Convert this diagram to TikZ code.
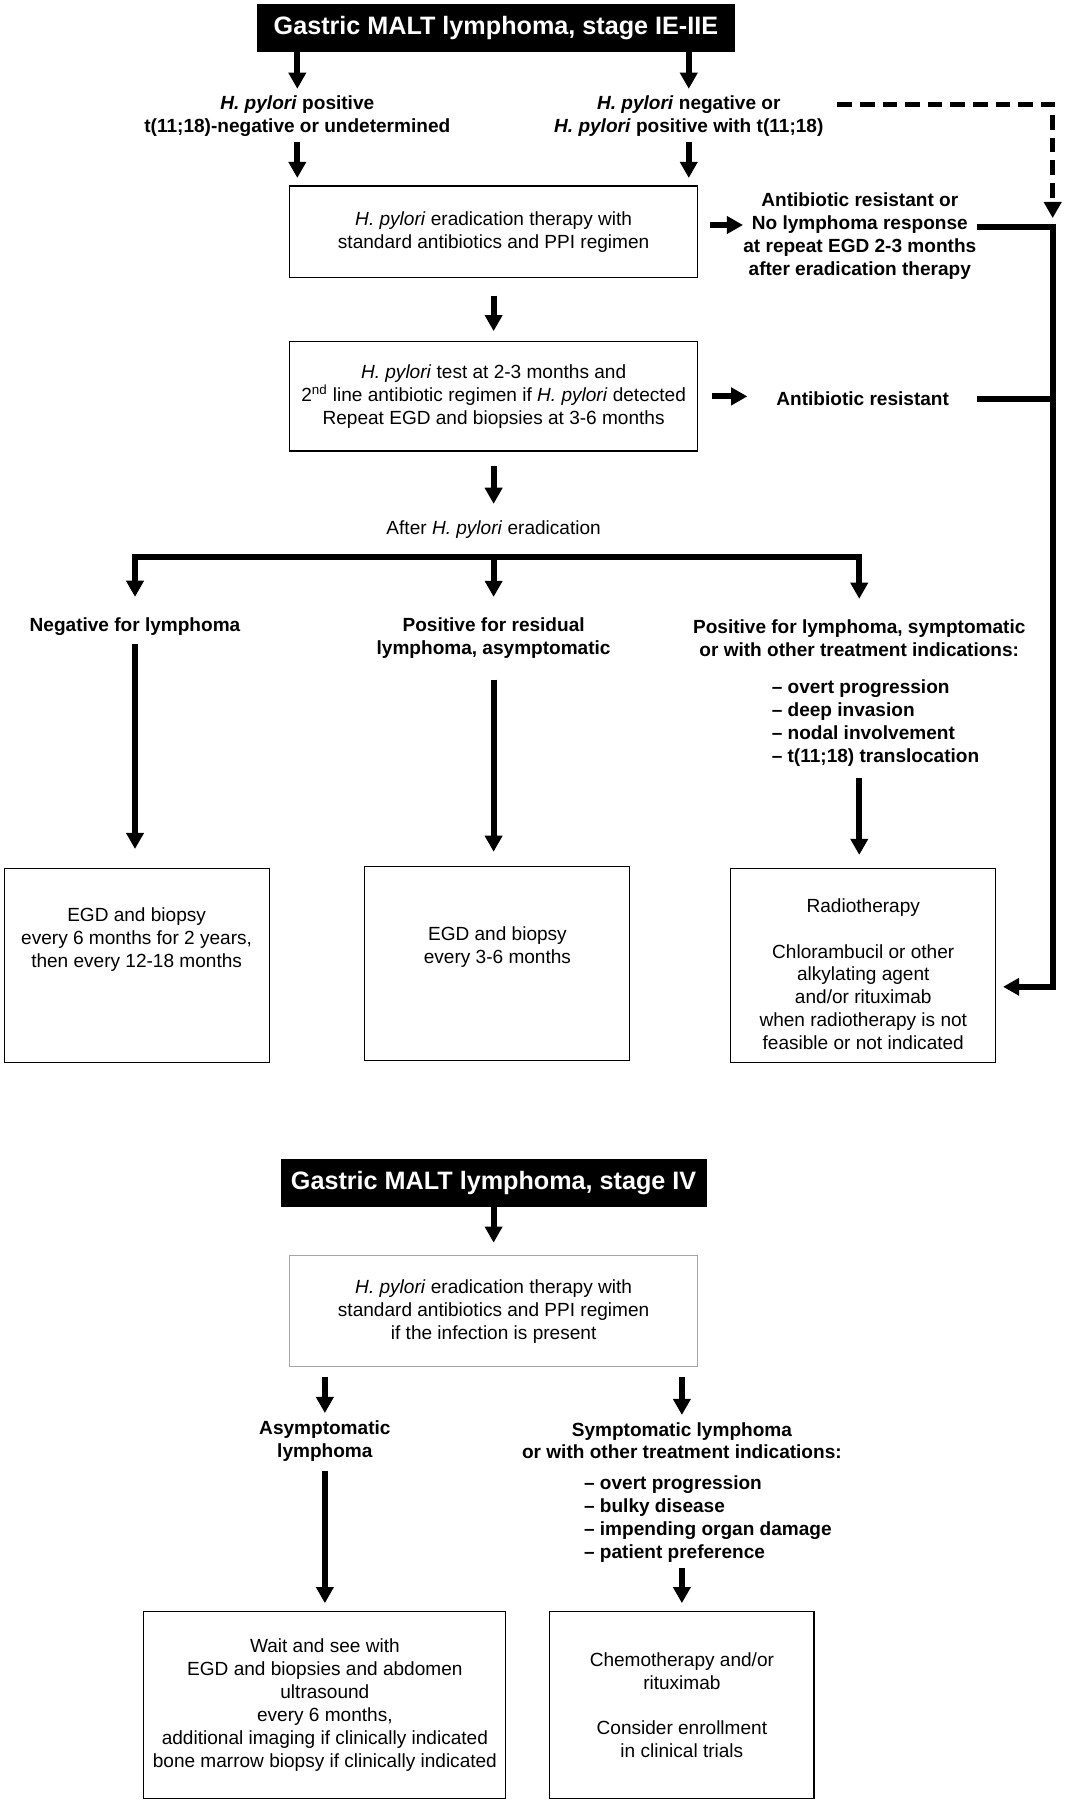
\documentclass[tikz,border=0pt]{standalone}
\usepackage{fontspec}
\setmainfont{Liberation Sans}
\usetikzlibrary{positioning, arrows.meta}
\newcommand{\chartsize}{\fontsize{11.8}{14.2}\selectfont}
\tikzstyle{heading} = [rectangle, fill=black, text=white, inner sep=0pt, font=\fontsize{15.6}{18}\selectfont\bfseries]
\tikzstyle{regimen} = [rectangle, draw=black, line width=0.7pt, align=center, minimum width=8.89cm]
\tikzstyle{outcome} = [rectangle, draw=black, line width=0.7pt, minimum width=5.77cm, minimum height=4.225cm]
\tikzstyle{branch} = [align=center, inner sep=0pt, font=\chartsize\bfseries]
\tikzstyle{note} = [align=center, inner sep=0pt]
\tikzstyle{indications} = [align=left, inner sep=0pt, anchor=west, font=\chartsize\bfseries]
\tikzstyle{arrow} = [line width=3.8pt, ->]
\tikzstyle{bar} = [line width=3.8pt]
\tikzstyle{dasharrow} = [line width=3.4pt, dash pattern=on 9pt off 5pt, ->]

\begin{document}
\begin{tikzpicture}[x=0.025cm, y=-0.025cm, >={Triangle[width=10.5pt,length=10pt]},
    font=\chartsize]
    \useasboundingbox (0,0) rectangle (930,1568);
    % stage IE-IIE
    \node (t1) [heading, minimum width=10.4cm, minimum height=1.04cm] at (432,24.3)
      {Gastric MALT lymphoma, stage IE-IIE};
    \node (l1) [branch] at (259,101)
      {\textit{H. pylori} positive\\t(11;18)-negative or undetermined};
    \node (r1) [branch] at (600,101)
      {\textit{H. pylori} negative or\\\textit{H. pylori} positive with t(11;18)};
    \node (erad1) [regimen, minimum height=2cm] at (430,202)
      {\textit{H. pylori} eradication therapy with\\standard antibiotics and PPI regimen};
    \node (noresp) [branch] at (749,205.7)
      {Antibiotic resistant or\\No lymphoma response\\at repeat EGD 2-3 months\\after eradication therapy};
    \node (test) [regimen, minimum height=2.38cm] at (430,345.3)
      {\textit{H. pylori} test at 2-3 months and\\2\textsuperscript{nd} line antibiotic regimen if \textit{H. pylori} detected\\Repeat EGD and biopsies at 3-6 months};
    \node (resist) [branch] at (751.5,347.5) {Antibiotic resistant};
    \node (after) [note] at (430,461) {After \textit{H. pylori} eradication};
    \coordinate (split) at (430,485);
    \coordinate (railtop) at (917,198);
    \coordinate (railbot) at (917,859.6);
    \node (neg) [branch] at (117.6,546) {Negative for lymphoma};
    \node (resid) [branch] at (430,556) {Positive for residual\\lymphoma, asymptomatic};
    \node (pos) [branch] at (748.5,556)
      {Positive for lymphoma, symptomatic\\or with other treatment indications:};
    \node (poslist) [indications] at (672,630)
      {– overt progression\\– deep invasion\\– nodal involvement\\– t(11;18) translocation};
    \node (negbox) [outcome] at (119,841.2) {};
    \node (negtext) [note] at (119,818.5)
      {EGD and biopsy\\every 6 months for 2 years,\\then every 12-18 months};
    \node (residbox) [outcome] at (433.3,839.5) {};
    \node (residtext) [note] at (433.3,825) {EGD and biopsy\\every 3-6 months};
    \node (radbox) [outcome] at (751.8,841.3) {};
    \node (radtext) [note] at (752,848.6)
      {Radiotherapy\\[14.2pt]Chlorambucil or other\\alkylating agent\\and/or rituximab\\when radiotherapy is not\\feasible or not indicated};

    \draw [arrow, shorten >=4pt] (t1.south -| l1) -- (l1.north);
    \draw [arrow, shorten >=4pt] (t1.south -| r1) -- (r1.north);
    \draw [arrow, shorten <=3.5pt, shorten >=4.6pt] (l1.south) -- (l1.south |- erad1.north);
    \draw [arrow, shorten <=3.5pt, shorten >=4.6pt] (r1.south) -- (r1.south |- erad1.north);
    \draw [dasharrow, shorten <=8.5pt, shorten >=5.7pt] ([yshift=0.25cm]r1.east) -| (railtop);
    \draw [arrow, shorten <=7pt] ([yshift=0.15cm]erad1.east) -- ([yshift=0.15cm]erad1.east -| noresp.west);
    \draw [arrow, shorten <=10.7pt, shorten >=6.2pt] (erad1) -- (test);
    \draw [arrow, shorten <=8.5pt, shorten >=17.8pt] (test.east) -- (test.east -| resist.west);
    \draw [arrow, shorten >=4.3pt] (noresp.east |- railtop) -- (railtop) -- (railbot) -- (railbot -| radbox.east);
    \draw [bar, shorten <=17pt] (resist.east) -- (resist.east -| railtop);
    \draw [arrow, shorten <=9.2pt, shorten >=10pt] (test) -- (after);
    \draw [arrow, <->] ([yshift=0.45cm]neg.north) -- (neg |- split) -- (pos |- split) -- ([yshift=0.45cm]pos.north);
    \draw [arrow] (split) -- ([yshift=0.45cm]resid.north);
    \draw [arrow, shorten <=5pt, shorten >=11.8pt] (neg) -- (neg |- negbox.north);
    \draw [arrow, shorten <=12.8pt, shorten >=8.9pt] (resid) -- (resid |- residbox.north);
    \draw [arrow, shorten <=7pt, shorten >=8.2pt] (pos |- poslist.south) -- (pos |- radbox.north);

    % stage IV
    \node (t2) [heading, minimum width=9.28cm, minimum height=1.03cm] at (430,1030.5)
      {Gastric MALT lymphoma, stage IV};
    \node (erad2) [regimen, draw=gray!70, minimum height=2.425cm] at (430,1142.2)
      {\textit{H. pylori} eradication therapy with\\standard antibiotics and PPI regimen\\if the infection is present};
    \node (asym) [branch] at (283,1255) {Asymptomatic\\lymphoma};
    \node (sym) [branch] at (594,1255)
      {Symptomatic lymphoma\\or with other treatment indications:};
    \node (symlist) [indications] at (508.5,1323)
      {– overt progression\\– bulky disease\\– impending organ damage\\– patient preference};
    \node (wait) [outcome, minimum width=7.88cm, minimum height=4.08cm, align=center] at (283,1485.4)
      {Wait and see with\\EGD and biopsies and abdomen\\ultrasound\\every 6 months,\\additional imaging if clinically indicated\\bone marrow biopsy if clinically indicated};
    \node (chemo) [outcome, minimum width=5.75cm, minimum height=4.08cm, align=center] at (594,1485.4)
      {Chemotherapy and/or\\rituximab\\[14.2pt]Consider enrollment\\in clinical trials};

    \draw [arrow, shorten >=7.6pt] (t2) -- (erad2);
    \draw [arrow, shorten <=5.9pt, shorten >=4.3pt] (asym |- erad2.south) -- (asym.north);
    \draw [arrow, shorten <=5.9pt, shorten >=4.3pt] (sym |- erad2.south) -- (sym.north);
    \draw [arrow, shorten <=5.7pt, shorten >=4.8pt] (asym) -- (wait);
    \draw [arrow, shorten <=3.6pt, shorten >=4.8pt] (sym |- symlist.south) -- (chemo);
  \end{tikzpicture}
\end{document}
